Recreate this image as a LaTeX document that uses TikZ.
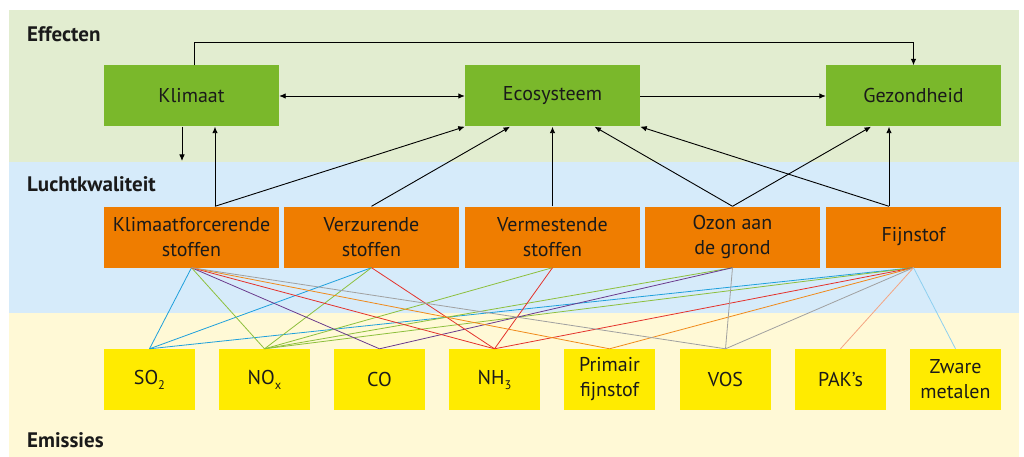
\documentclass[tikz,border=0pt]{standalone}
\usepackage{fontspec}
\setmainfont{PT Sans}
\usetikzlibrary{arrows.meta}
\definecolor{bandG}{HTML}{E2EDD0}
\definecolor{bandB}{HTML}{D6EBFA}
\definecolor{bandY}{HTML}{FFF9D6}
\definecolor{boxG}{HTML}{7AB82B}
\definecolor{boxO}{HTML}{EF7D00}
\definecolor{boxY}{HTML}{FFEB00}
\definecolor{txt}{HTML}{1A1A1A}
\definecolor{cSO}{HTML}{1EA0DC}
\definecolor{cNO}{HTML}{8DBF3C}
\definecolor{cCO}{HTML}{6A3A8C}
\definecolor{cNH}{HTML}{E4322B}
\definecolor{cPF}{HTML}{F08A1A}
\definecolor{cVOS}{HTML}{A0A0A0}
\definecolor{cPAK}{HTML}{F4A582}
\definecolor{cZM}{HTML}{8ED0F0}
\newcommand\lowsub[1]{\raisebox{-0.5ex}{\fontsize{12.5}{12.5}\selectfont #1}}
\tikzset{
  boxbase/.style={rectangle, inner sep=0pt, align=center, text=txt,
    font=\fontsize{20}{25}\selectfont},
  gbox/.style={boxbase, fill=boxG, minimum width=175pt, minimum height=61pt},
  obox/.style={boxbase, fill=boxO, minimum width=175pt, minimum height=61pt},
  ybox/.style={boxbase, fill=boxY, minimum width=91pt, minimum height=61pt},
  lbl/.style={anchor=base west, inner sep=0pt, text=txt, font=\fontsize{21}{24}\selectfont\bfseries},
  arr/.style={draw=black, line width=0.9pt, -{Latex[length=6.5pt,width=5.5pt]}},
  arrtwo/.style={draw=black, line width=0.9pt, {Latex[length=6.5pt,width=5.5pt]}-{Latex[length=6.5pt,width=5.5pt]}},
  em/.style={line width=0.8pt}
}
\begin{document}
\begin{tikzpicture}[x=1pt,y=-1pt]
\useasboundingbox (0,0) rectangle (1024,457);
\fill[white] (0,0) rectangle (1024,457);
% bands
\fill[bandG] (9,10) rectangle (1019,162);
\fill[bandB] (9,162) rectangle (1019,313);
\fill[bandY] (9,313) rectangle (1019,457);
\node[lbl] (lEff) at (27,41.5) {Effecten};
\node[lbl] (lLucht) at (27,191) {Luchtkwaliteit};
\node[lbl] (lEmis) at (27,447.5) {Emissies};
% effects
\node[gbox] (klim) at (191.5,96) {Klimaat};
\node[gbox] (eco) at (552.5,96) {Ecosysteem};
\node[gbox] (gez) at (913.5,96) {Gezondheid};
% air quality
\node[obox] (kf) at (191.5,237) {Klimaatforcerende\\stoffen};
\node[obox] (verz) at (371.5,237) {Verzurende\\stoffen};
\node[obox] (verm) at (552.5,237) {Vermestende\\stoffen};
\node[obox] (ozon) at (732.5,237) {Ozon aan\\de grond};
\node[obox] (fijn) at (913.5,237) {Fijnstof};
% emissions
\node[ybox] (so) at (149.5,379.5) {SO\lowsub{2}};
\node[ybox] (nox) at (264.5,379.5) {NO\lowsub{x}};
\node[ybox] (co) at (379.5,379.5) {CO};
\node[ybox] (nh) at (494.5,379.5) {NH\lowsub{3}};
\node[ybox] (pf) at (609.5,379.5) {Primair\\fijnstof};
\node[ybox] (vos) at (725.5,379.5) {VOS};
\node[ybox] (pak) at (840.5,379.5) {PAK’s};
\node[ybox] (zm) at (955.5,379.5) {Zware\\metalen};
% emission lines
\draw[em, cSO] (so.north) -- (kf.south);
\draw[em, cSO] (so.north) -- (verz.south);
\draw[em, cSO] (so.north) -- (fijn.south);
\draw[em, cNO] (nox.north) -- (kf.south);
\draw[em, cNO] (nox.north) -- (verz.south);
\draw[em, cNO] (nox.north) -- (verm.south);
\draw[em, cNO] (nox.north) -- (ozon.south);
\draw[em, cNO] (nox.north) -- (fijn.south);
\draw[em, cCO] (co.north) -- (kf.south);
\draw[em, cCO] (co.north) -- (ozon.south);
\draw[em, cNH] (nh.north) -- (kf.south);
\draw[em, cNH] (nh.north) -- (verz.south);
\draw[em, cNH] (nh.north) -- (verm.south);
\draw[em, cNH] (nh.north) -- (fijn.south);
\draw[em, cPF] (pf.north) -- (kf.south);
\draw[em, cPF] (pf.north) -- (fijn.south);
\draw[em, cVOS] (vos.north) -- (kf.south);
\draw[em, cVOS] (vos.north) -- (ozon.south);
\draw[em, cVOS] (vos.north) -- (fijn.south);
\draw[em, cPAK] (pak.north) -- (fijn.south);
\draw[em, cZM] (zm.north) -- (fijn.south);
% effect arrows
\draw[arr] ([xshift=2.5pt]klim.north) -- ++(0,-23) -| (gez.north);
\draw[arrtwo] (klim.east) -- (eco.west);
\draw[arr] (eco.east) -- (gez.west);
\coordinate (kdown) at (182,161);
\draw[arr] ([xshift=-9.5pt]klim.south) -- (kdown);
\draw[arr] ([xshift=23.5pt]kf.north) -- ([xshift=23.5pt]klim.south);
\draw[arr] ([xshift=23.5pt]kf.north) -- (eco.south west);
\draw[arr] (verz.north) -- ([xshift=-42.5pt]eco.south);
\draw[arr] (verm.north) -- (eco.south);
\draw[arr] (ozon.north) -- ([xshift=42pt]eco.south);
\draw[arr] (ozon.north) -- ([xshift=-42.5pt]gez.south);
\draw[arr] ([xshift=-24.5pt]fijn.north) -- (eco.south east);
\draw[arr] ([xshift=-24.5pt]fijn.north) -- ([xshift=-24.5pt]gez.south);
\end{tikzpicture}
\end{document}
